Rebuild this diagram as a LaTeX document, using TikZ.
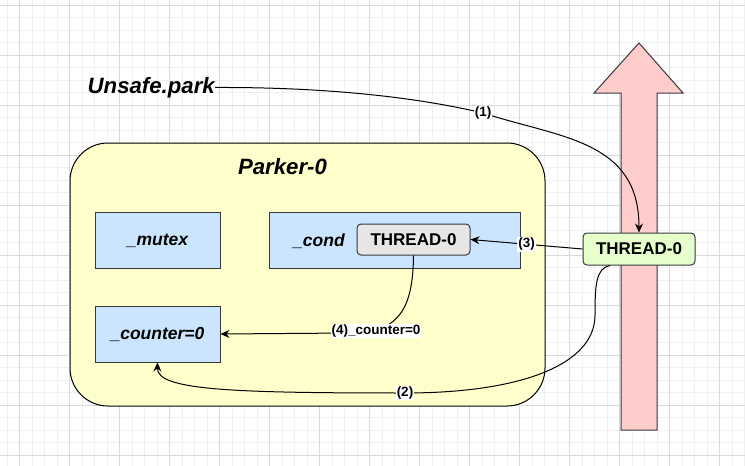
\documentclass[tikz,border=0pt]{standalone}
\usepackage{fontspec}
\setmainfont{Liberation Sans}
\usetikzlibrary{arrows.meta}

\definecolor{gridminor}{HTML}{F0F0F0}
\definecolor{gridmajor}{HTML}{DADADA}
\definecolor{parkerfill}{HTML}{FFFFCC}
\definecolor{fieldfill}{HTML}{CCE5FF}
\definecolor{darkline}{HTML}{36393D}
\definecolor{threadgray}{HTML}{E6E6E6}
\definecolor{threadgreen}{HTML}{E6FFCC}
\definecolor{timeline}{HTML}{FFCCCC}

\tikzset{
  fieldbox/.style={draw=darkline, fill=fieldfill, line width=1pt,
    minimum width=125pt, minimum height=56pt, inner sep=0pt},
  fieldtext/.style={font=\fontsize{17.5}{20}\selectfont\bfseries\itshape, inner sep=0pt},
  threadbox/.style={draw=darkline, line width=1pt, rounded corners=4pt,
    font=\fontsize{17}{20}\selectfont\bfseries, inner sep=0pt},
  titletext/.style={font=\fontsize{22.2}{26}\selectfont\bfseries\itshape, inner sep=0pt},
  edgelbl/.style={fill=white, inner sep=1pt, font=\fontsize{13.5}{15}\selectfont\bfseries},
  flow/.style={draw=black, line width=1pt, -{Stealth[length=9pt,width=8pt,inset=3pt]}},
}

\begin{document}
\begin{tikzpicture}[x=1pt, y=-1pt]
  % canvas and grid
  \fill[white] (0,0) rectangle (745,466);
  \useasboundingbox (0,0) rectangle (745,466);
  \foreach \gx in {7,19.5,...,745} \draw[gridminor, line width=0.8pt] (\gx,0) -- (\gx,466);
  \foreach \gy in {5,17.5,...,466} \draw[gridminor, line width=0.8pt] (0,\gy) -- (745,\gy);
  \foreach \gx in {19.5,69.5,...,745} \draw[gridmajor, line width=0.8pt] (\gx,0) -- (\gx,466);
  \foreach \gy in {5,55,...,466} \draw[gridmajor, line width=0.8pt] (0,\gy) -- (745,\gy);

  % Parker container
  \draw[black, fill=parkerfill, line width=1pt, rounded corners=38pt]
    (70,143) rectangle (545,406);
  \node[titletext] (parkertitle) at (282.5,167) {Parker-0};

  % fields
  \node[fieldbox] (mutex) at (157.5,240.5) {};
  \node[fieldtext] (mutextext) at (157.5,241) {\_mutex};
  \node[fieldbox, minimum width=251pt] (cond) at (394.5,240.5) {};
  \node[fieldtext] (condtext) at (319,241) {\_cond};
  \node[fieldbox] (counter) at (157.5,334) {};
  \node[fieldtext] (countertext) at (157.5,334) {\_counter=0};

  % thread waiting on the condition
  \node[threadbox, fill=threadgray, minimum width=113pt, minimum height=31pt]
    (waiting) at (413.5,239.5) {THREAD-0};

  % timeline of the thread
  \draw[darkline, fill=timeline, line width=1pt]
    (621,430) -- (621,93) -- (594,93) -- (639,43) -- (683,93) -- (657,93) -- (657,430) -- cycle;
  \node[threadbox, fill=threadgreen, minimum width=112pt, minimum height=32pt]
    (running) at (639,249) {THREAD-0};

  % caller
  \node[titletext, anchor=east] (park) at (215,87.5) {Unsafe.park};

  % (1) park call reaches the running thread
  \path[flow] (park.east) .. controls (330,87) and (420,98) .. (483,113)
    node[edgelbl] (l1) {(1)}
    .. controls (560,138) and (639,140) .. (running.north);

  % (2) counter check
  \path[flow] ([xshift=-29pt]running.south) .. controls (596,268) and (595,285) .. (595,315)
    .. controls (595,365) and (520,393) .. (405,393)
    node[edgelbl] (l2) {(2)}
    .. controls (230,393) and (157,390) .. (counter.south);

  % (3) thread waits on the condition
  \path[flow] (running.west) -- node[edgelbl] (l3) {(3)} (waiting.east);

  % (4) counter reset on wake-up
  \path[flow] (waiting.south) .. controls (413,310) and (398,333) .. (350,333)
    -- (counter.east);
  \node[edgelbl] (l4) at (376,331) {(4)\_counter=0};
\end{tikzpicture}
\end{document}
